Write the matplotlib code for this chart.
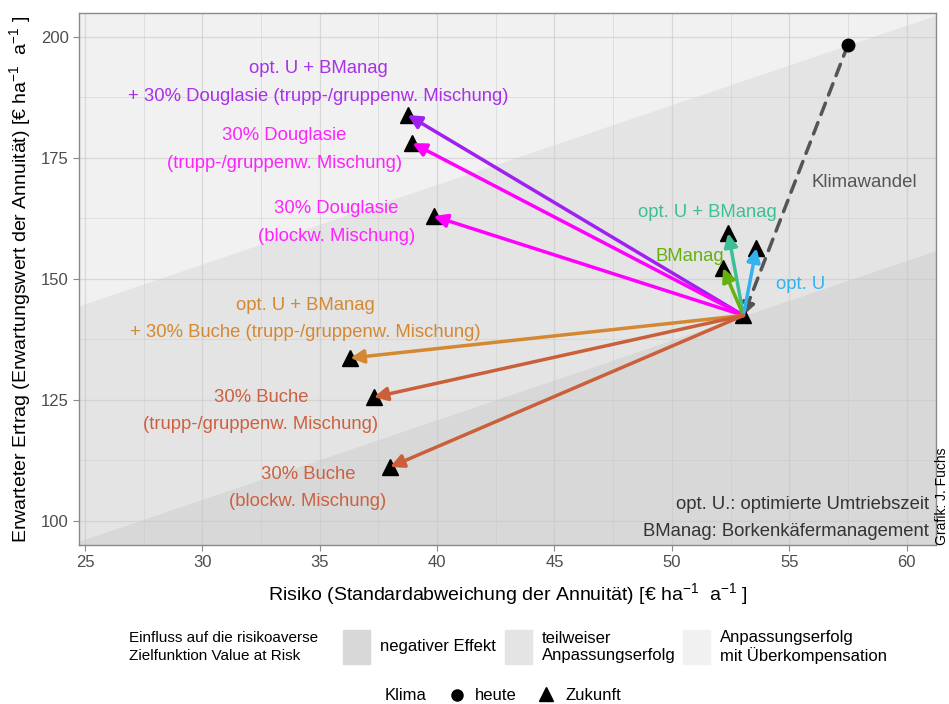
import numpy as np
import matplotlib.pyplot as plt
from matplotlib.patches import Rectangle
from matplotlib.lines import Line2D

plt.rcParams['font.family'] = ['Liberation Sans', 'DejaVu Sans']
plt.rcParams['mathtext.default'] = 'regular'

# Klima heute / Zukunft (Ausgangspunkt)
heute = (57.5, 198.3)
zukunft = (53.05, 142.4)

# Massnahmen unter Zukunftsklima: Risiko, Ertrag
namen = ["optU_BM_Dgl_tr", "Dgl_tr", "Dgl_bl", "optU_BM", "BM", "optU",
         "optU_BM_Bu_tr", "Bu_tr", "Bu_bl"]
risiko = [38.75, 38.95, 39.85, 52.4, 52.18, 53.6, 36.3, 37.3, 38.0]
ertrag = [183.8, 178.0, 162.9, 159.4, 152.2, 156.3, 133.6, 125.5, 111.1]
farben = ["#A020F0", "#FF00FF", "#FF00FF", "#3CBF96", "#66B010", "#33B2EE",
          "#D48832", "#C9603A", "#C9603A"]
texte = ["opt. U + BManag\n+ 30% Douglasie (trupp-/gruppenw. Mischung)",
         "30% Douglasie\n(trupp-/gruppenw. Mischung)",
         "30% Douglasie\n(blockw. Mischung)",
         "opt. U + BManag", "BManag", "opt. U",
         "opt. U + BManag\n+ 30% Buche (trupp-/gruppenw. Mischung)",
         "30% Buche\n(trupp-/gruppenw. Mischung)",
         "30% Buche\n(blockw. Mischung)"]
text_farben = ["#A830E8", "#FF22FF", "#FF22FF", "#3CBF96", "#66B010", "#33B2EE",
               "#D48832", "#CC6040", "#CC6040"]
text_pos = [(34.95, 190.5), (33.5, 176.7), (35.7, 161.6), (51.5, 163.7),
            (50.75, 154.6), (55.5, 148.7), (34.4, 141.7), (32.5, 122.6), (34.5, 106.7)]

# Value-at-Risk Isolinien: Ertrag - z * Risiko = const
z = 1.645

fig = plt.figure(figsize=(9.49, 7.04), dpi=100)
ax = fig.add_axes([0.0836, 0.2259, 0.9024, 0.7551])
xlim = (24.76, 61.24)
ylim = (94.98, 204.8)
ax.set_xlim(xlim)
ax.set_ylim(ylim)

c_oben = heute[1] - z * heute[0]
c_unten = zukunft[1] - z * zukunft[0]
xx = np.array(xlim)
top = ylim[1]
bot = ylim[0]
hell = "#F1F1F1"
mittel = "#E4E4E4"
dunkel = "#D8D8D8"
ax.fill_between(xx, c_oben + z * xx, top, color=hell, zorder=0, lw=0)
ax.fill_between(xx, c_unten + z * xx, c_oben + z * xx, color=mittel, zorder=0, lw=0)
ax.fill_between(xx, bot, c_unten + z * xx, color=dunkel, zorder=0, lw=0)

# Gitter
for v in [25, 30, 35, 40, 45, 50, 55, 60]:
    ax.axvline(v, color="#C8C8C8", lw=0.9, alpha=0.6, zorder=1)
for v in [27.5, 32.5, 37.5, 42.5, 47.5, 52.5, 57.5]:
    ax.axvline(v, color="#C8C8C8", lw=0.5, alpha=0.6, zorder=1)
for v in [100, 125, 150, 175, 200]:
    ax.axhline(v, color="#C8C8C8", lw=0.9, alpha=0.6, zorder=1)
for v in [112.5, 137.5, 162.5, 187.5]:
    ax.axhline(v, color="#C8C8C8", lw=0.5, alpha=0.6, zorder=1)

# Klimawandel
ax.annotate("", xy=zukunft, xytext=heute,
            arrowprops=dict(arrowstyle="-|>", color="#555555", lw=2.5,
                            linestyle=(0, (3.5, 2.5)), mutation_scale=18,
                            shrinkA=0, shrinkB=0), zorder=2)
ax.plot(*heute, "o", color="black", ms=9, zorder=3)
ax.plot(*zukunft, "^", color="black", ms=12, zorder=3)
ax.text(58.2, 169.8, "Klimawandel", color="#555555", fontsize=13.4,
        ha="center", va="center", zorder=5)

ax.plot(risiko, ertrag, "^", color="black", ms=12, zorder=3, ls="none")
for i in range(len(namen)):
    ax.annotate("", xy=(risiko[i], ertrag[i]), xytext=zukunft,
                arrowprops=dict(arrowstyle="-|>", color=farben[i], lw=2.5,
                                mutation_scale=20, shrinkA=0, shrinkB=0),
                zorder=4)
    ax.text(text_pos[i][0], text_pos[i][1], texte[i], color=text_farben[i],
            fontsize=13.3, ha="center", va="center", linespacing=1.8, zorder=5)

ax.text(60.95, 103.3, "opt. U.: optimierte Umtriebszeit", color="#333333",
        fontsize=13.3, ha="right", va="center")
ax.text(60.95, 97.75, "BManag: Borkenkäfermanagement", color="#333333",
        fontsize=13.3, ha="right", va="center")

ax.set_xticks([25, 30, 35, 40, 45, 50, 55, 60])
ax.set_yticks([100, 125, 150, 175, 200])
ax.tick_params(colors="#8A8A8A", labelcolor="#4D4D4D", labelsize=12, length=4)
for s in ax.spines.values():
    s.set_color("#8A8A8A")
    s.set_linewidth(1.0)

ax.set_xlabel(r"Risiko (Standardabweichung der Annuität) [€ ha$^{-1}$  a$^{-1}$ ]",
              fontsize=14, labelpad=8)
ax.set_ylabel(r"Erwarteter Ertrag (Erwartungswert der Annuität) [€ ha$^{-1}$  a$^{-1}$ ]",
              fontsize=14, labelpad=6)

fig.text(0.9925, 0.226, "Grafik: J. Fuchs", rotation=90, fontsize=10,
         ha="center", va="bottom")

# Legende Hintergrund
W, H = 949, 704
def fx(px):
    return px / W
def fy(py):
    return 1 - py / H

fig.text(fx(129), fy(647), "Einfluss auf die risikoaverse\nZielfunktion Value at Risk",
         fontsize=11, ha="left", va="center", linespacing=1.3)
legende = [(343, dunkel, "negativer Effekt"),
           (505, mittel, "teilweiser\nAnpassungserfolg"),
           (683, hell, "Anpassungserfolg\nmit Überkompensation")]
for px, col, txt in legende:
    fig.patches.append(Rectangle((fx(px), fy(664)), 27 / W, 34 / H,
                                 transform=fig.transFigure, color=col))
    fig.text(fx(px + 37), fy(647), txt, fontsize=12, ha="left", va="center",
             linespacing=1.2)

fig.text(fx(385), fy(696), "Klima", fontsize=12, ha="left", va="center")
fig.lines.append(Line2D([fx(457)], [fy(695)], marker="o", color="black", ms=8,
                        transform=fig.transFigure))
fig.text(fx(475), fy(696), "heute", fontsize=12, ha="left", va="center")
fig.lines.append(Line2D([fx(546)], [fy(694)], marker="^", color="black", ms=10,
                        transform=fig.transFigure))
fig.text(fx(565), fy(696), "Zukunft", fontsize=12, ha="left", va="center")

fig.savefig("out.png", dpi=100)
